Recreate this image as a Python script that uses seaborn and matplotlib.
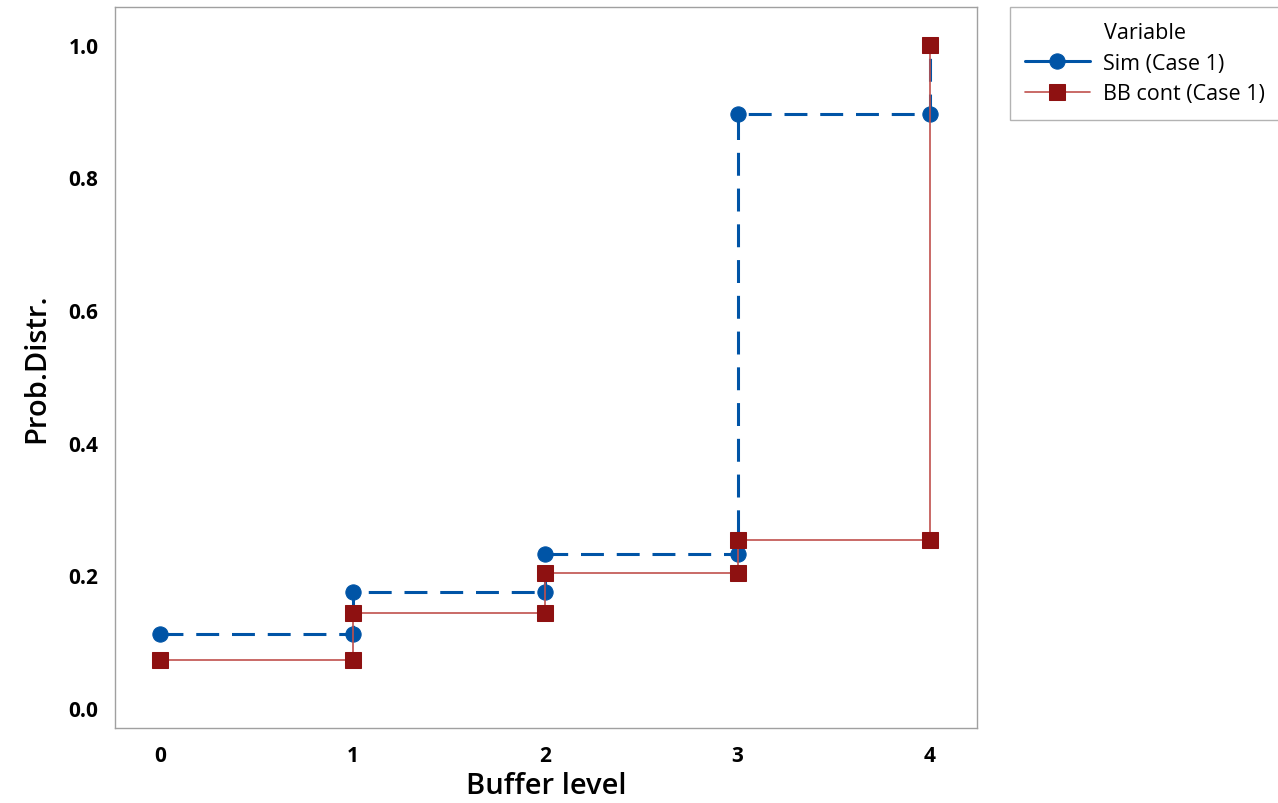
import numpy as np
import pandas as pd
import matplotlib
matplotlib.use("Agg")
import matplotlib.pyplot as plt
import seaborn as sns

# cumulative probability at each buffer level
buffer_levels = [0, 1, 2, 3, 4]
sim_case1 = [0.111, 0.175, 0.232, 0.895, 1.0]
bb_cont_case1 = [0.073, 0.143, 0.203, 0.254, 1.0]
series_names = ["Sim (Case 1)", "BB cont (Case 1)"]


def step_points(levels, values):
    # markers at both ends of every step, like the original plot
    xs, ys = [levels[0]], [values[0]]
    for i in range(1, len(levels)):
        xs += [levels[i], levels[i]]
        ys += [values[i - 1], values[i]]
    return xs, ys


sx, sy = step_points(buffer_levels, sim_case1)
bx, by = step_points(buffer_levels, bb_cont_case1)
df_sim = pd.DataFrame({"Buffer level": sx, "Prob.Distr.": sy, "Variable": series_names[0]})
df_bb = pd.DataFrame({"Buffer level": bx, "Prob.Distr.": by, "Variable": series_names[1]})

sns.set_style("white")
plt.rcParams["font.family"] = ["Open Sans", "DejaVu Sans"]
plt.rcParams["text.color"] = "black"
plt.rcParams["axes.labelcolor"] = "black"

fig = plt.figure(figsize=(12.78, 8.04), dpi=100)
ax = fig.add_axes([115 / 1278, 1 - 729 / 804, (977 - 115) / 1278, (729 - 8) / 804])

sns.lineplot(data=df_sim, x="Buffer level", y="Prob.Distr.", sort=False, ax=ax,
             estimator=None, color="#0054A6", lw=2.2, marker="o", markersize=11,
             markeredgecolor="#0054A6", label=series_names[0])
ax.lines[-1].set_dashes((7.5, 4.2))
sns.lineplot(data=df_bb, x="Buffer level", y="Prob.Distr.", sort=False, ax=ax,
             estimator=None, color="#C0504D", lw=1.2, marker="s", markersize=11,
             markerfacecolor="#8E1111", markeredgecolor="#8E1111", label=series_names[1])

ax.set_xlim(-0.234, 4.244)
ax.set_ylim(-0.030, 1.057)
ax.set_xticks(buffer_levels)
ax.set_yticks([0.0, 0.2, 0.4, 0.6, 0.8, 1.0])
ax.set_yticklabels(["0.0", "0.2", "0.4", "0.6", "0.8", "1.0"])
ax.tick_params(axis="both", labelsize=15, length=6, color="#999999", width=1,
               direction="out", labelcolor="black", pad=6)
for lab in ax.get_xticklabels() + ax.get_yticklabels():
    lab.set_fontweight("bold")
ax.set_xlabel("Buffer level", fontsize=21, fontweight="semibold", labelpad=4)
ax.set_ylabel("Prob.Distr.", fontsize=21, fontweight="semibold", labelpad=12)
for sp in ax.spines.values():
    sp.set_color("#A0A0A0")
    sp.set_linewidth(1)

ax.get_legend().remove()
handles, labels = ax.get_legend_handles_labels()
leg = fig.legend(handles, labels, title="Variable", loc="upper left",
                 bbox_to_anchor=(1010 / 1278, 1 - 8 / 804), fontsize=15.5,
                 title_fontsize=15.5, frameon=True, fancybox=False,
                 edgecolor="#A0A0A0", borderpad=0.7, handlelength=3.0,
                 handletextpad=0.6, labelspacing=0.45, borderaxespad=0)
leg.get_frame().set_linewidth(1)
for h in leg.legend_handles:
    h.set_linestyle("-")

fig.savefig("out.png", dpi=100)
